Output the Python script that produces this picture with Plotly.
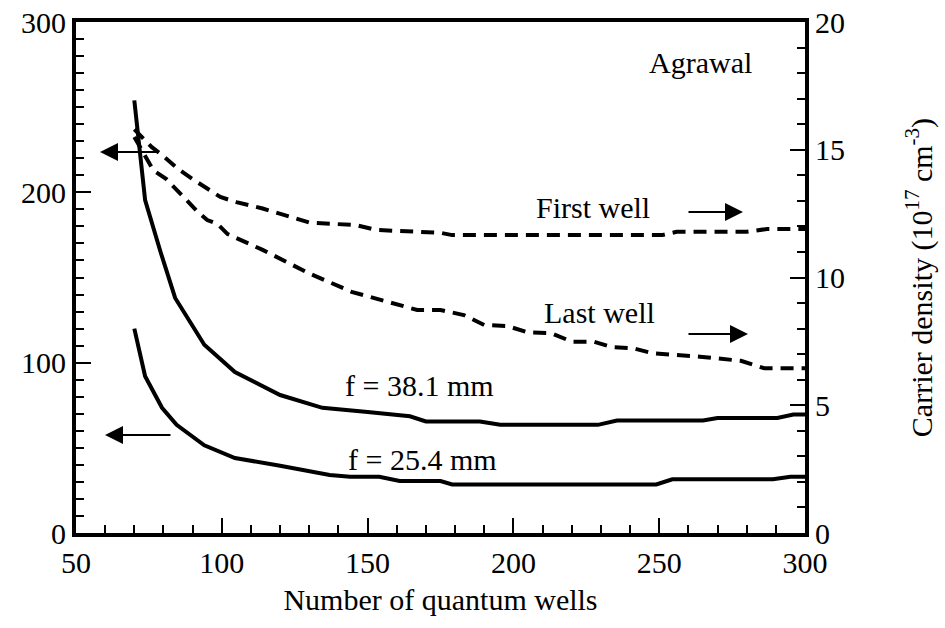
import plotly.graph_objects as go

# ---- data ----
x_f381 = [70, 73.7, 79, 84, 94, 104.5, 120, 134.5, 150, 164.5, 170, 188.5, 195.5, 229, 235.5, 265, 270, 290.5, 296, 300]
y_f381 = [254, 195.5, 165, 138, 110.5, 94.5, 81, 73.5, 71, 68.5, 65.5, 65.5, 63.5, 63.5, 66, 66, 67.5, 67.5, 69.5, 69.5]

x_f254 = [70, 73.7, 79.5, 84.5, 94, 104.5, 120, 137, 144, 154, 161, 175, 179, 249, 254.5, 289, 295, 300]
y_f254 = [120, 92, 73.5, 63.5, 51.5, 44, 39.5, 34, 33, 33, 30.5, 30.5, 28.5, 28.5, 31.5, 31.5, 33, 33]

x_first = [70, 76, 80, 85, 90, 95, 99.5, 105, 114, 130, 146, 153, 175, 179, 251, 256, 280, 287, 300]
y_first = [15.8, 15.1, 14.75, 14.25, 13.85, 13.5, 13.15, 12.95, 12.7, 12.15, 12.05, 11.86, 11.75, 11.66, 11.66, 11.79, 11.79, 11.9, 11.9]

x_last = [70, 72, 76.5, 81, 84, 88, 91.5, 95, 98.5, 102, 114, 130, 144.5, 167, 175, 183, 190, 198, 205, 213, 220, 227.5, 234, 241, 248, 264, 278, 286, 300]
y_last = [15.5, 15.1, 14.2, 13.85, 13.5, 13.05, 12.6, 12.25, 12.1, 11.7, 11.08, 10.16, 9.44, 8.73, 8.73, 8.53, 8.14, 8.1, 7.85, 7.82, 7.49, 7.49, 7.27, 7.23, 7.03, 6.9, 6.74, 6.45, 6.45]

x_ticks = [50, 100, 150, 200, 250, 300]
y_left_ticks = [0, 100, 200, 300]
y_right_ticks = [0, 5, 10, 15, 20]

FONT = "Liberation Serif"
FS = 30

fig = go.Figure()
solid = dict(color="black", width=4)
dashed = dict(color="black", width=4, dash="13px,8px")
fig.add_trace(go.Scatter(x=x_f381, y=y_f381, mode="lines", line=solid, yaxis="y"))
fig.add_trace(go.Scatter(x=x_f254, y=y_f254, mode="lines", line=solid, yaxis="y"))
fig.add_trace(go.Scatter(x=x_first, y=y_first, mode="lines", line=dashed, yaxis="y2"))
fig.add_trace(go.Scatter(x=x_last, y=y_last, mode="lines", line=dashed, yaxis="y2"))

L, R, T, B = 76, 805, 22, 533
W, H = 945, 628

def px(x):
    return (x - L) / (R - L)

def py(y):
    return (B - y) / (B - T)

anns = []
def text(s, x, y):
    anns.append(dict(text=s, x=px(x), y=py(y), xref="paper", yref="paper",
                     showarrow=False, xanchor="center", yanchor="middle",
                     font=dict(family=FONT, size=FS, color="black")))

def arrow(hx, hy, tx, ty):
    anns.append(dict(text="", x=px(hx), y=py(hy), xref="paper", yref="paper",
                     ax=tx - hx, ay=ty - hy, showarrow=True, arrowhead=2,
                     arrowsize=1.8, arrowwidth=2, arrowcolor="black"))

text("Agrawal", 700, 62)
text("First well", 593, 207)
text("Last well", 599, 312)
text("f = 38.1 mm", 419, 385)
text("f = 25.4 mm", 422, 459)
arrow(743, 212, 687, 212)
arrow(748, 334, 687, 334)
arrow(100, 152, 160, 152)
arrow(105, 435, 172, 435)

tickfont = dict(family=FONT, size=FS, color="black")
fig.update_layout(
    width=W, height=H,
    margin=dict(l=L, r=W - R, t=T, b=H - B, pad=0),
    plot_bgcolor="white", paper_bgcolor="white",
    showlegend=False,
    font=dict(family=FONT, size=FS, color="black"),
    annotations=anns,
    xaxis=dict(range=[50, 300], tickvals=x_ticks, ticks="inside", ticklen=15, tickwidth=2,
               tickcolor="black", showline=True, linewidth=4, linecolor="black", mirror=True,
               showgrid=False, zeroline=False, tickfont=tickfont,
               minor=dict(ticks="inside", ticklen=8, tickwidth=2, dtick=10, tick0=50, tickcolor="black", showgrid=False),
               title=dict(text="Number of quantum wells", font=tickfont, standoff=12),
               automargin=False),
    yaxis=dict(range=[0, 300], tickvals=y_left_ticks, ticks="inside", ticklen=15, tickwidth=2,
               tickcolor="black", showline=True, linewidth=4, linecolor="black",
               showgrid=False, zeroline=False, tickfont=tickfont,
               minor=dict(ticks="inside", ticklen=8, tickwidth=2, dtick=10, tick0=0, tickcolor="black", showgrid=False),
               automargin=False),
    yaxis2=dict(range=[0, 20], tickvals=y_right_ticks, overlaying="y", side="right",
                ticks="inside", ticklen=15, tickwidth=2, tickcolor="black",
                showline=True, linewidth=4, linecolor="black",
                showgrid=False, zeroline=False, tickfont=tickfont,
                minor=dict(ticks="inside", ticklen=8, tickwidth=2, dtick=1, tick0=0, tickcolor="black", showgrid=False),
                title=dict(text="Carrier density (10<sup>17</sup> cm<sup>-3</sup>)", font=tickfont, standoff=68),
                automargin=False),
)

fig.write_html("out.html")
